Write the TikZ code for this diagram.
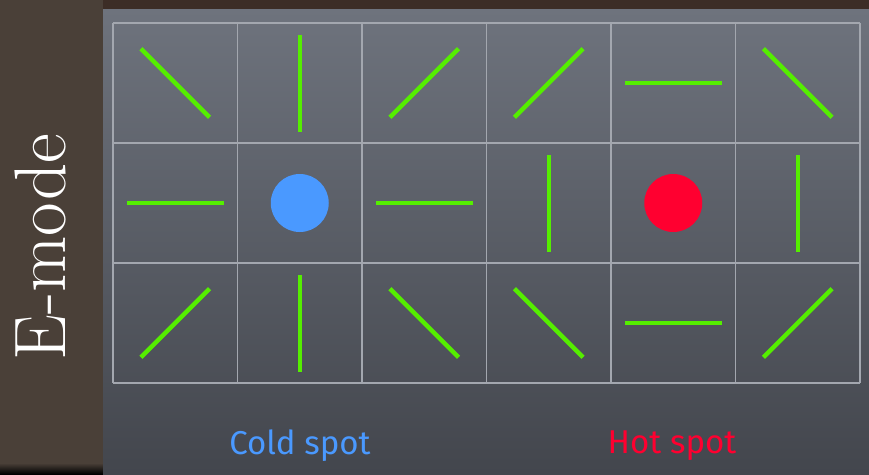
\documentclass[tikz,border=0pt]{standalone}
\usepackage{fontspec}
\newfontfamily\chalkfont{Fira Sans}

\definecolor{stripbrown}{HTML}{4A4038}
\definecolor{topbrown}{HTML}{3C2D26}
\definecolor{slatetop}{HTML}{6E737D}
\definecolor{slatebottom}{HTML}{43464D}
\definecolor{gridgray}{HTML}{A3A7AF}
\definecolor{polgreen}{HTML}{55EE00}
\definecolor{coldblue}{HTML}{4A99FF}
\definecolor{hotred}{HTML}{FF0030}

\tikzset{
    gridline/.style={gridgray, line width=1.5pt},
    polbar/.style={polgreen, line width=4.5pt},
    spot/.style={circle, minimum size=58pt, inner sep=0pt},
    spotlabel/.style={font=\chalkfont\fontsize{33}{33}\selectfont},
}

\begin{document}
\begin{tikzpicture}[x=1pt, y=-1pt]
    \useasboundingbox (0,0) rectangle (869,474);

    % background
    \fill[stripbrown] (0,0) rectangle (103,474);
    \shade[top color=stripbrown, bottom color=black] (0,463) rectangle (103,474);
    \fill[topbrown] (103,0) rectangle (869,9);
    \shade[top color=slatetop, bottom color=slatebottom] (103,9) rectangle (869,474);

    \node[rotate=90, text=white, font=\fontsize{73}{73}\selectfont] (emode) at (40,247) {E-mode};

    % grid of cells
    \foreach \i in {0,...,6} {
        \draw[gridline] ({113+124.5*\i},23) -- ({113+124.5*\i},383);
    }
    \foreach \j in {0,...,3} {
        \draw[gridline] (113,{23+120*\j}) -- (860,{23+120*\j});
    }

    % polarisation bars: column/row/angle
    \foreach \c/\r/\a in {1/1/45, 2/1/90, 3/1/-45, 4/1/-45, 5/1/0, 6/1/45,
                          1/2/0, 3/2/0, 4/2/90, 6/2/90,
                          1/3/-45, 2/3/90, 3/3/45, 4/3/45, 5/3/0, 6/3/-45} {
        \coordinate (cell-\c-\r) at ({113+124.5*(\c-0.5)},{23+120*(\r-0.5)});
        \draw[polbar] ([shift={(\a:48.5)}]cell-\c-\r) -- ([shift={(\a+180:48.5)}]cell-\c-\r);
    }

    \node[spot, fill=coldblue] (cold) at (299.75,203) {};
    \node[spot, fill=hotred] (hot) at (673.25,203) {};

    \node[spotlabel, text=coldblue] (coldlabel) at (300,446) {Cold spot};
    \node[spotlabel, text=hotred] (hotlabel) at (672,446) {Hot spot};
\end{tikzpicture}
\end{document}
